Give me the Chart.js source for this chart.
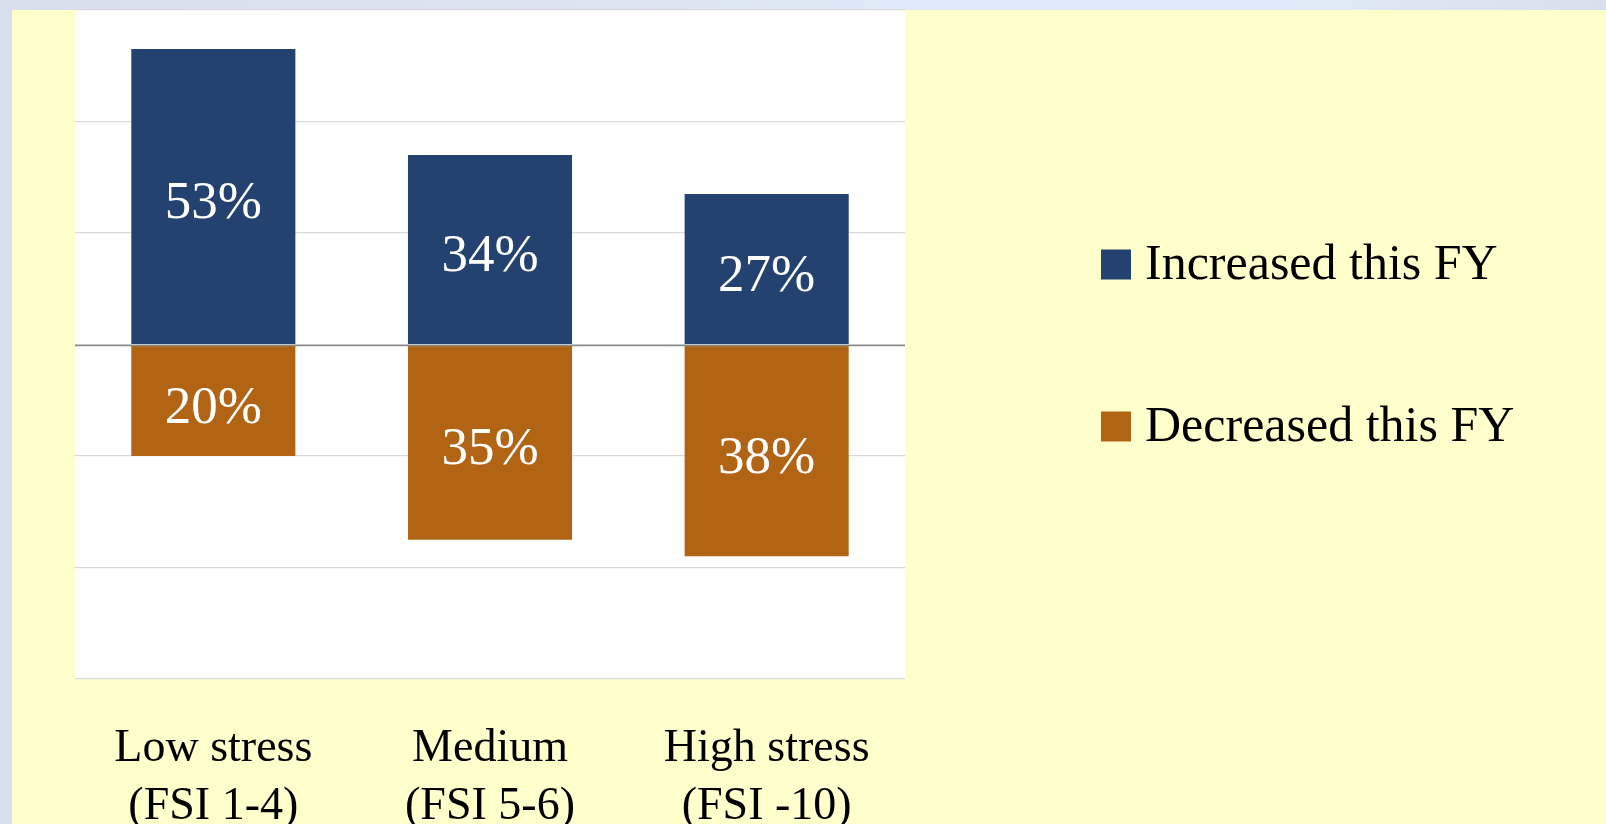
<!DOCTYPE html>
<html>
<head>
<meta charset="utf-8">
<script src="https://cdn.jsdelivr.net/npm/chart.js@4/dist/chart.umd.min.js"></script>
<style>
  html, body { margin: 0; padding: 0; width: 1606px; height: 824px; overflow: hidden; }
  body { position: relative; background: linear-gradient(90deg, #d8dfec 0%, #dfe8f6 55%, #e1eaf8 80%, #d8e0ee 100%); }
  #panel { position: absolute; left: 12px; top: 10px; right: 0; bottom: 0; background: #ffffcc; }
  #wrap { position: absolute; left: 0; top: 0; width: 1606px; height: 824px; }
</style>
</head>
<body>
<div id="panel"></div>
<div id="wrap"><canvas id="chart" width="1606" height="824"></canvas></div>
<script>
// Categories (two-line axis labels)
const categories = [
  ['Low stress', '(FSI 1-4)'],
  ['Medium', '(FSI 5-6)'],
  ['High stress', '(FSI -10)']
];
// Share of respondents, in percent (decreases plotted below zero)
const increasedValues = [53, 34, 27];
const decreasedValues = [-20, -35, -38];
const seriesNames = ['Increased this FY', 'Decreased this FY'];
// Value axis range and step
const yMin = -60;
const yMax = 60;
const yStep = 20;

const SERIF = "'Liberation Serif', 'DejaVu Serif', serif";
const colors = ['#234270', '#b26415'];

// White plotting area behind the grid
const plotBackground = {
  id: 'plotBackground',
  beforeDraw(chart) {
    const { ctx, chartArea: a } = chart;
    ctx.save();
    ctx.fillStyle = '#ffffff';
    ctx.fillRect(a.left, a.top, a.right - a.left, a.bottom - a.top);
    ctx.restore();
  }
};

// Zero baseline over the bars, then value labels inside each bar
const barDecorations = {
  id: 'barDecorations',
  afterDatasetsDraw(chart) {
    const { ctx, chartArea: a, scales } = chart;
    const y0 = Math.round(scales.y.getPixelForValue(0)) + 0.5;
    ctx.save();
    ctx.strokeStyle = '#8a8a8a';
    ctx.lineWidth = 1.5;
    ctx.beginPath();
    ctx.moveTo(a.left, y0);
    ctx.lineTo(a.right, y0);
    ctx.stroke();

    ctx.fillStyle = '#ffffff';
    ctx.font = '53px ' + SERIF;
    ctx.textAlign = 'center';
    ctx.textBaseline = 'alphabetic';
    chart.data.datasets.forEach((ds, di) => {
      const meta = chart.getDatasetMeta(di);
      meta.data.forEach((bar, i) => {
        const v = ds.data[i];
        const mid = (bar.y + bar.base) / 2;
        ctx.fillText(Math.abs(v) + '%', bar.x, mid + 22);
      });
    });
    ctx.restore();
  }
};

// Legend at the right of the plot
const sideLegend = {
  id: 'sideLegend',
  afterDraw(chart) {
    const { ctx, chartArea: a } = chart;
    const x0 = a.right + 196;
    const centerY = (a.top + a.bottom) / 2;
    const rowGap = 162;
    const box = 30;
    ctx.save();
    ctx.font = '50px ' + SERIF;
    ctx.textAlign = 'left';
    ctx.textBaseline = 'alphabetic';
    chart.data.datasets.forEach((ds, i) => {
      const cy = centerY - 80 + i * rowGap;
      ctx.fillStyle = ds.backgroundColor;
      ctx.fillRect(x0, cy - box / 2, box, box);
      ctx.fillStyle = '#000000';
      ctx.fillText(ds.label, x0 + 44, cy + box / 2 - 1);
    });
    ctx.restore();
  }
};

new Chart(document.getElementById('chart'), {
  type: 'bar',
  data: {
    labels: categories,
    datasets: [
      { label: seriesNames[0], data: increasedValues, backgroundColor: colors[0] },
      { label: seriesNames[1], data: decreasedValues, backgroundColor: colors[1] }
    ]
  },
  options: {
    responsive: false,
    devicePixelRatio: 1,
    animation: false,
    layout: { padding: { left: 75, top: 10, right: 701, bottom: 0 } },
    datasets: { bar: { categoryPercentage: 1, barPercentage: 0.593, borderWidth: 0 } },
    plugins: { legend: { display: false }, tooltip: { enabled: false } },
    scales: {
      x: {
        stacked: true,
        grid: { display: false },
        border: { display: false },
        ticks: {
          color: '#000000',
          font: { family: SERIF, size: 46, lineHeight: 1.28 },
          padding: 32,
          maxRotation: 0,
          autoSkip: false
        },
        afterFit(s) { s.height = 145; }
      },
      y: {
        stacked: true,
        min: yMin,
        max: yMax,
        ticks: { display: false, stepSize: yStep },
        grid: { color: '#d9d9d9', lineWidth: 1.2, drawTicks: false },
        border: { display: false },
        afterFit(s) { s.width = 0; }
      }
    }
  },
  plugins: [plotBackground, barDecorations, sideLegend]
});
</script>
</body>
</html>
